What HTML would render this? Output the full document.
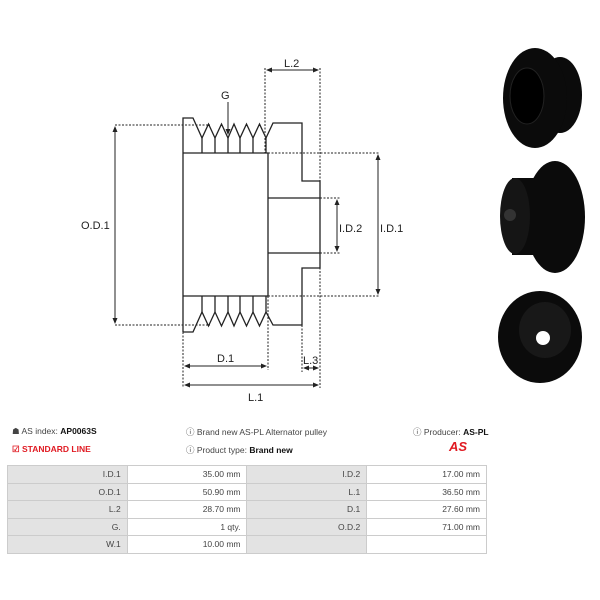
<!DOCTYPE html>
<html><head><style>
body{margin:0;width:600px;height:600px;background:#fff;font-family:"Liberation Sans",sans-serif;position:relative;overflow:hidden}
.t{position:absolute;font-size:8.5px;color:#444;white-space:nowrap}
.t b{color:#111}
table{position:absolute;left:7px;top:465px;border-collapse:collapse;width:480px;font-size:8.5px;color:#444}
td{height:16.5px;border:1px solid #ccc;text-align:right;padding:0 6px;width:108px}
td.g{background:#e3e3e3}
</style></head><body>
<svg width="600" height="420" style="position:absolute;left:0;top:0" font-family="Liberation Sans, sans-serif" font-size="11" fill="#222">
<defs><marker id="a" markerWidth="6" markerHeight="6" refX="5" refY="3" orient="auto-start-reverse"><path d="M0,0.5L6,3L0,5.5z" fill="#222"/></marker></defs>
<g stroke="#222" stroke-width="1.3" fill="none">
<path d="M183,332V118H193L202,138L208.5,124L215,138L221.5,124L228,138L234,124L240,138L246.5,124L253,138L259.5,124L266,138L273,123H302V181H320V268H302V325H273L266,312L259.5,326L253,312L246.5,326L240,312L234,326L228,312L221.5,326L215,312L208.5,326L202,312L193,332H183"/>
<path d="M183,153H268V296H183M268,198H320M268,253H320"/>
<path d="M202,138V153M215,138V153M228,138V153M240,138V153M253,138V153M266,138V153M202,312V296M215,312V296M228,312V296M240,312V296M253,312V296M266,312V296"/>
</g>
<g stroke="#222" stroke-width="1" stroke-dasharray="2,1.5" fill="none">
<path d="M115,125H210M115,325H210M268,153H380M268,296H380M320,198H340M320,253H340M265,68V153M320,68V388M183,332V388M268,296V370M302,325V372"/>
</g>
<g stroke="#222" stroke-width="1" fill="none" marker-start="url(#a)" marker-end="url(#a)">
<path d="M115,127V323"/><path d="M378,155V294"/><path d="M337,200V251"/><path d="M267,70H318"/><path d="M185,366H266"/><path d="M185,385H318"/><path d="M304,368H318"/>
<path d="M228,102V134" marker-start="none"/>
</g>
<text x="221" y="99">G</text><text x="81" y="229">O.D.1</text><text x="339" y="232">I.D.2</text><text x="380" y="232">I.D.1</text>
<text x="284" y="67">L.2</text><text x="217" y="362">D.1</text><text x="303" y="364">L.3</text><text x="248" y="401">L.1</text>
<!-- photos -->
<g fill="#0b0b0b">
<ellipse cx="560" cy="95" rx="22" ry="38"/><ellipse cx="535" cy="98" rx="32" ry="50"/>
<ellipse cx="527" cy="96" rx="17" ry="28" fill="#000" stroke="#222"/>
<ellipse cx="555" cy="217" rx="30" ry="56"/><rect x="512" y="178" width="45" height="77"/><ellipse cx="515" cy="216" rx="15" ry="38" fill="#151515"/>
<circle cx="510" cy="215" r="6" fill="#333"/>
<ellipse cx="540" cy="337" rx="42" ry="46"/><ellipse cx="545" cy="330" rx="26" ry="28" fill="#181818"/><circle cx="543" cy="338" r="7" fill="#fff"/>
</g>
</svg>
<div class="t" style="left:12px;top:426px">&#9751; AS index: <b>AP0063S</b></div>
<div class="t" style="left:12px;top:444px;color:#e01a22;font-weight:bold">&#9745; STANDARD LINE</div>
<div class="t" style="left:186px;top:426px">&#9432; Brand new AS-PL Alternator pulley</div>
<div class="t" style="left:186px;top:444px">&#9432; Product type: <b>Brand new</b></div>
<div class="t" style="left:413px;top:426px">&#9432; Producer: <b>AS-PL</b></div>
<div style="position:absolute;left:449px;top:439px;color:#e01a22;font:italic bold 13px 'Liberation Sans',sans-serif">AS</div>
<table>
<tr><td class="g">I.D.1</td><td>35.00 mm</td><td class="g">I.D.2</td><td>17.00 mm</td></tr>
<tr><td class="g">O.D.1</td><td>50.90 mm</td><td class="g">L.1</td><td>36.50 mm</td></tr>
<tr><td class="g">L.2</td><td>28.70 mm</td><td class="g">D.1</td><td>27.60 mm</td></tr>
<tr><td class="g">G.</td><td>1 qty.</td><td class="g">O.D.2</td><td>71.00 mm</td></tr>
<tr><td class="g">W.1</td><td>10.00 mm</td><td class="g"></td><td></td></tr>
</table>
</body></html>
